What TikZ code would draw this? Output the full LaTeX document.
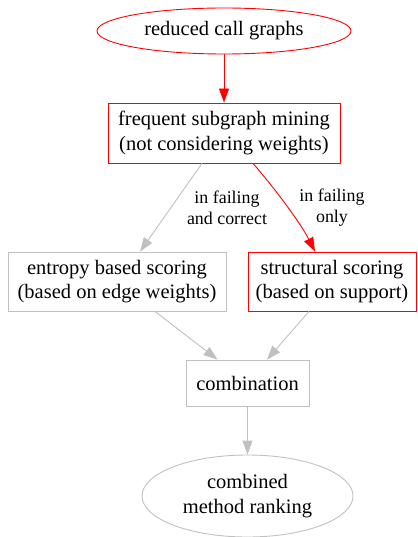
\documentclass[tikz,border=0pt]{standalone}
\usepackage{fontspec}
\setmainfont{Liberation Serif}
\usetikzlibrary{arrows.meta,shapes.geometric}
\definecolor{edgegray}{HTML}{C0C0C0}
\begin{document}
\begin{tikzpicture}[x=1pt,y=-1pt,
  base/.style={inner sep=0pt, align=center, font=\fontsize{20.5}{24.6}\selectfont, line width=0.9pt},
  redbox/.style={base, draw=red, rectangle},
  graybox/.style={base, draw=edgegray, rectangle},
  redell/.style={base, draw=red, ellipse},
  grayell/.style={base, draw=edgegray, ellipse},
  elabel/.style={inner sep=0pt, align=center, font=\fontsize{17.9}{21}\selectfont},
  redarrow/.style={draw=red, line width=0.9pt, -{Triangle[length=14pt,width=10pt]}},
  grayarrow/.style={draw=edgegray, line width=0.9pt, -{Triangle[length=14pt,width=10pt]}}
]
\useasboundingbox (0,0) rectangle (417,537);
\node[redell, minimum width=254pt, minimum height=46pt] (top) at (224,31) {reduced call graphs};
\node[redbox, minimum width=232pt, minimum height=60pt] (mine) at (224,133) {frequent subgraph mining\\(not considering weights)};
\node[graybox, minimum width=218pt, minimum height=59pt] (ent) at (117,281.5) {entropy based scoring\\(based on edge weights)};
\node[redbox, minimum width=168pt, minimum height=59pt] (str) at (332,281.5) {structural scoring\\(based on support)};
\node[graybox, minimum width=123pt, minimum height=46pt] (comb) at (247.5,383) {combination};
\node[grayell, minimum width=211pt, minimum height=82pt] (rank) at (247.5,496) {combined\\method ranking};
\node[elabel] (l1) at (227,207.5) {in failing\\and correct};
\node[elabel] (l2) at (332,207.5) {in failing\\only};
\draw[redarrow] (top.south) -- (mine.north);
\draw[grayarrow] ([xshift=-22pt]mine.south) -- ([xshift=23pt]ent.north);
\draw[redarrow] ([xshift=29pt]mine.south) .. controls (272,185) and (300,222) .. ([xshift=-17pt]str.north);
\draw[grayarrow] ([xshift=38pt]ent.south) -- ([xshift=-30pt]comb.north);
\draw[grayarrow] ([xshift=-23pt]str.south) -- ([xshift=19.5pt]comb.north);
\draw[grayarrow] (comb.south) -- (rank.north);
\end{tikzpicture}
\end{document}
